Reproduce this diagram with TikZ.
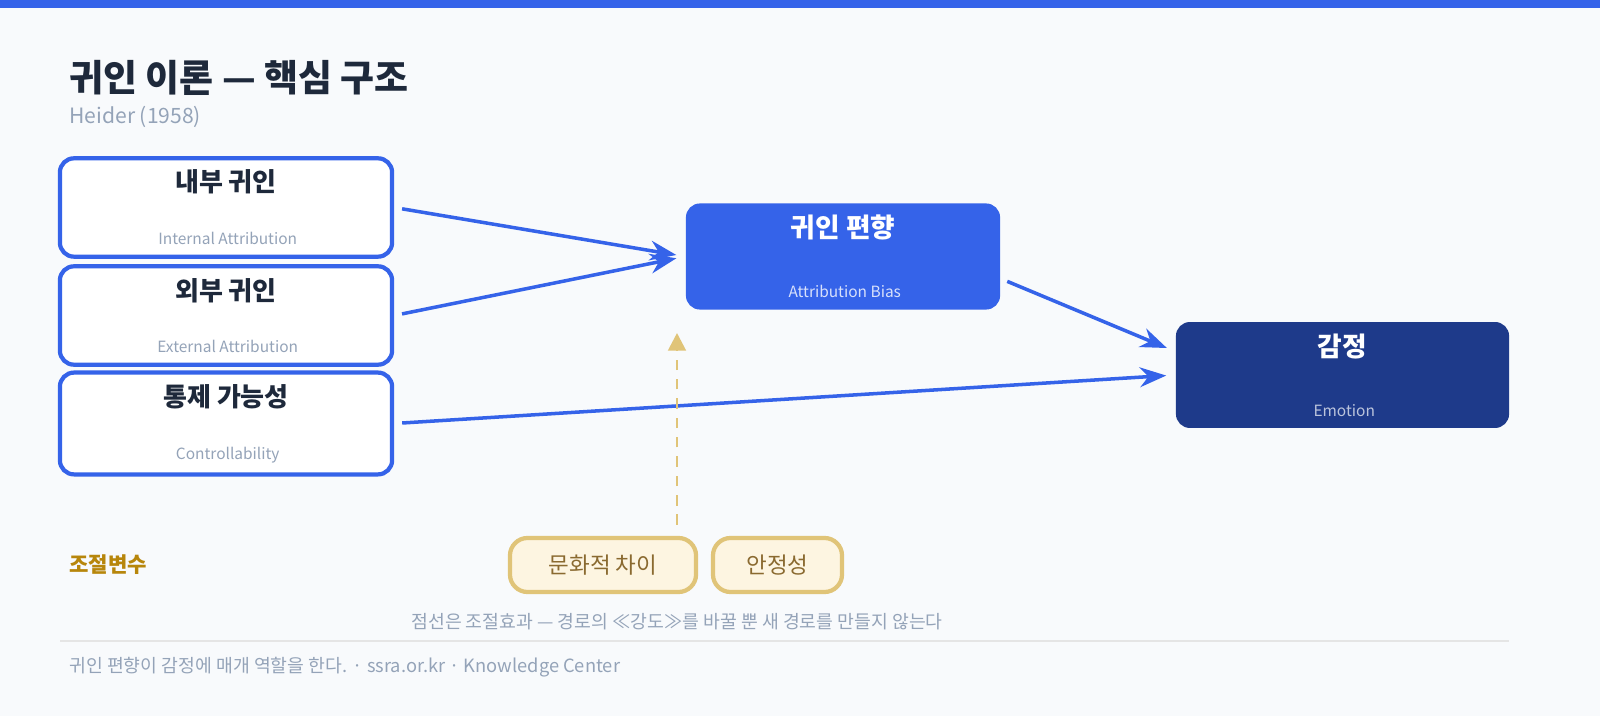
\documentclass[tikz,border=0pt]{standalone}
\usepackage{fontspec}
\setmainfont{Noto Sans CJK KR}
\usetikzlibrary{arrows.meta,positioning,calc}
\definecolor{bgc}{HTML}{F8FAFC}
\definecolor{blu}{HTML}{3563E9}
\definecolor{navy}{HTML}{1E3A8A}
\definecolor{ink}{HTML}{1E293B}
\definecolor{mute}{HTML}{94A3B8}
\definecolor{gold}{HTML}{E0C478}
\definecolor{cream}{HTML}{FDF5E1}
\definecolor{brown}{HTML}{8A6A30}
\definecolor{ochre}{HTML}{B7860B}
\newcommand{\fs}[1]{\fontsize{#1}{#1}\selectfont}
\begin{document}
\begin{tikzpicture}[x=0.01cm, y=-0.01cm, >=Stealth,
    factor/.style = {draw=blu, line width=1.2pt, fill=white, rounded corners=4pt, minimum width=3.32cm, minimum height=0.85cm, align=center},
    mid/.style = {fill=blu, rounded corners=4pt, minimum width=3.14cm, minimum height=0.97cm, align=center, text=white},
    result/.style = {fill=navy, rounded corners=4pt, minimum width=3.33cm, minimum height=0.98cm, align=center, text=white},
    pill/.style = {draw=gold, line width=1.2pt, fill=cream, rounded corners=5pt, minimum height=0.54cm, text=brown, font=\fs{6.4}},
    link/.style = {->, blu, line width=1pt, shorten <=0.08cm, shorten >=0.09cm}]
    % background
    \fill[bgc] (0,0) rectangle (1600,716);
    \useasboundingbox (0,0) rectangle (1600,716);
    \fill[blu] (0,0) rectangle (1600,8);

    % title
    \node[anchor=west, text=ink, font=\fs{10.5}\bfseries] (title) at (57,78) {귀인 이론 — 핵심 구조};
    \node[anchor=west, text=mute, font=\fs{6}] (src) at (57,117) {Heider (1958)};

    % factors
    \node[factor] (int) at (226,207.5) {\textcolor{ink}{\fs{7.4}\bfseries 내부 귀인}\\[3pt]\textcolor{mute}{\fs{4.4} Internal Attribution}};
    \node[factor] (ext) at (226,315.5) {\textcolor{ink}{\fs{7.4}\bfseries 외부 귀인}\\[3pt]\textcolor{mute}{\fs{4.4} External Attribution}};
    \node[factor] (ctl) at (226,423.5) {\textcolor{ink}{\fs{7.4}\bfseries 통제 가능성}\\[3pt]\textcolor{mute}{\fs{4.4} Controllability}};

    % mediator and outcome
    \node[mid] (bias) at (843,256.5) {\fs{7.6}\bfseries 귀인 편향\\[5pt]\textcolor{white!80!blu}{\fs{4.4} Attribution Bias}};
    \node[result] (emo) at (1342.5,375) {\fs{7.6}\bfseries 감정\\[5pt]\textcolor{white!70!navy}{\fs{4.4} Emotion}};

    % moderators
    \node[anchor=west, text=ochre, font=\fs{6}\bfseries] (modlbl) at (57,565) {조절변수};
    \node[pill, minimum width=1.86cm] (culture) at (603,565) {문화적 차이};
    \node[pill, minimum width=1.29cm] (stab) at (777.5,565) {안정성};
    \coordinate (mod) at (677,333);

    % paths
    \draw[link] (int.east) -- (bias.west);
    \draw[link] (ext.east) -- (bias.west);
    \draw[link, shorten <=0.07cm] (bias.-8) -- (emo.172);
    \draw[link] (ctl.east) -- (emo.west);
    \draw[-{Triangle[length=5pt,width=5pt]}, gold, line width=0.8pt, dash pattern=on 3pt off 2.5pt, shorten <=0.11cm] (culture.north -| mod) -- (mod);

    % notes
    \node[text=mute, font=\fs{5.2}] (note) at (677,622) {점선은 조절효과 — 경로의 ≪강도≫를 바꿀 뿐 새 경로를 만들지 않는다};
    \draw[black!10, line width=0.8pt] (60,641) -- (1509,641);
    \node[anchor=west, text=mute, font=\fs{5.2}] (foot) at (57,667) {귀인 편향이 감정에 매개 역할을 한다. · ssra.or.kr · Knowledge Center};
\end{tikzpicture}
\end{document}
